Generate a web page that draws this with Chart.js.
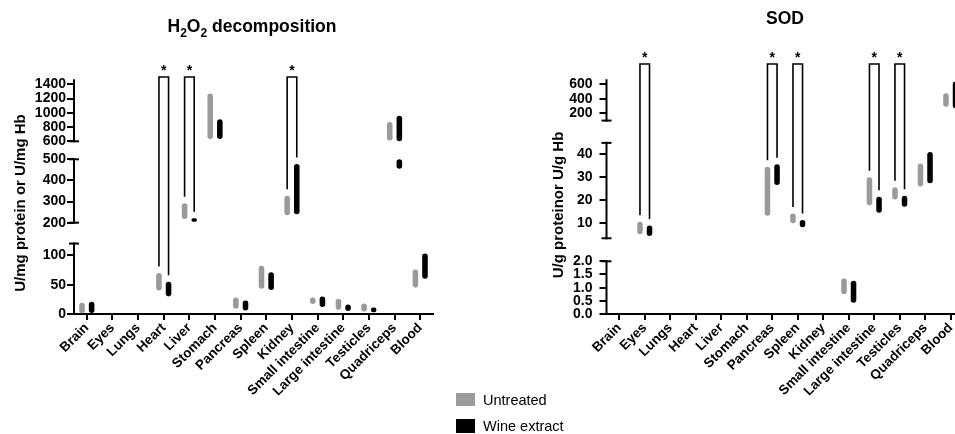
<!DOCTYPE html>
<html><head><meta charset="utf-8">
<script src="https://cdn.jsdelivr.net/npm/chart.js@4"></script>
<style>
html,body{margin:0;padding:0;background:#fff;overflow:hidden;width:955px;height:434px;position:relative;}
#c1{position:absolute;left:0;top:0;}
#c2{position:absolute;left:480px;top:0;}
.lg{position:absolute;left:456px;width:19px;height:13px;}
.lt{position:absolute;left:483px;font:14.5px "Liberation Sans",Arial,sans-serif;color:#000;line-height:16px;white-space:nowrap;}
</style></head><body>
<canvas id="c1" width="470" height="434"></canvas>
<canvas id="c2" width="520" height="434"></canvas>
<div class="lg" style="top:393px;background:#9a9a9a"></div><div class="lt" style="top:392px">Untreated</div>
<div class="lg" style="top:419px;background:#000;height:14px"></div><div class="lt" style="top:418px">Wine extract</div>
<script>
// ---------- data ----------
const categories = ['Brain','Eyes','Lungs','Heart','Liver','Stomach','Pancreas','Spleen','Kidney','Small intestine','Large intestine','Testicles','Quadriceps','Blood'];

// H2O2 decomposition (min, max)
const h2o2Untreated = [[1,19], null, null, [40,70], [217,292], [630,1270], [9,28], [43,82], [235,328], [17,28], [7,26], [4,18], [610,870], [45,76]];
const h2o2Wine      = [[0,21], null, null, [30,55], [205,221], [632,910], [6,23], [41,71], [240,478], [12,30], [5,16], [3,11], [455,960], [60,103]];
const h2o2Significant = ['Heart','Liver','Kidney'];
const h2o2AxisSegments = [[0,120],[200,500],[600,1470]];
const h2o2Ticks = [[0,50,100],[200,300,400,500],[600,800,1000,1200,1400]];

// SOD (min, max)
const sodUntreated = [null, [5.2,10.7], null, null, null, null, [13.3,34.6], [10,14.3], null, [0.75,1.35], [17.8,30], [20.4,25.7], [26,36], [290,475]];
const sodWine      = [null, [4.5,9], null, null, null, null, [26.7,35.7], [8.3,11.4], null, [0.43,1.26], [14.6,21.6], [17.2,22], [27.4,41], [270,640]];
const sodSignificant = ['Eyes','Pancreas','Spleen','Large intestine','Testicles'];
const sodAxisSegments = [[0,2],[3.5,45],[100,670]];
const sodTicks = [[0,0.5,1,1.5,2],[10,20,30,40],[200,400,600]];

// ---------- styling ----------
const FONT = '"Liberation Sans", Arial, Helvetica, sans-serif';
const GRAY = '#9a9a9a', BLACK = '#000000';

function clip(r, s) {
  if (!r) return null;
  const a = Math.max(r[0], s[0]), b = Math.min(r[1], s[1]);
  return a < b ? [a, b] : null;
}

function panelChart(canvasId, p) {
  const segs = p.segments;
  const datasets = [];
  [['Untreated', p.untreated, GRAY, 'U'], ['Wine extract', p.wine, BLACK, 'W']].forEach(([label, ser, col, st]) => {
    segs.forEach((s, k) => datasets.push({
      label, stack: st, yAxisID: 'y' + k,
      data: ser.map(r => clip(r, s)),
      backgroundColor: col, borderRadius: 3, borderSkipped: false,
      categoryPercentage: 0.75, barPercentage: 0.58
    }));
  });
  const scales = {
    x: {
      type: 'category', offset: true,
      grid: {display: true, drawOnChartArea: false, drawTicks: true, tickLength: 6, offset: false, color: '#000', lineWidth: 2},
      border: {display: true, color: '#000', width: 2},
      ticks: {autoSkip: false, maxRotation: 45, minRotation: 45, padding: 0, color: '#000', font: {family: FONT, size: 13.5, weight: 'bold'}},
      afterFit: sc => { sc.height = 120; }
    }
  };
  segs.forEach((s, k) => {
    scales['y' + k] = {
      type: 'linear', position: 'left', stack: 'ybreak', stackWeight: p.weights[k], weight: k + 1,
      min: p.ranges[k][0], max: p.ranges[k][1], stacked: false,
      grid: {display: true, drawOnChartArea: false, drawTicks: true, tickLength: 7, color: '#000', lineWidth: 2},
      border: {display: false},
      ticks: {autoSkip: false, color: '#000', padding: p.tickPad, font: {family: FONT, size: 14, weight: 'bold'}, callback: v => p.fmt[k](v)},
      afterBuildTicks: sc => { sc.ticks = p.ticks[k].map(v => ({value: v})); },
      afterFit: sc => { sc.width = p.yWidth; }
    };
  });
  const deco = {
    id: 'deco',
    afterDraw(chart) {
      const ctx = chart.ctx, ca = chart.chartArea, left = ca.left, last = segs.length - 1;
      ctx.save();
      ctx.strokeStyle = '#000'; ctx.lineWidth = 2;
      segs.forEach((s, k) => {
        const sc = chart.scales['y' + k];
        const p0 = k === 0 ? ca.bottom + 1 : sc.getPixelForValue(s[0]);
        const p1 = sc.getPixelForValue(s[1]);
        ctx.beginPath(); ctx.moveTo(left, p0 + (k === 0 ? 0 : 1)); ctx.lineTo(left, p1 - (k === last ? 0 : 1)); ctx.stroke();
        const cap = y => { ctx.beginPath(); ctx.moveTo(left - 5, y); ctx.lineTo(left + 5, y); ctx.stroke(); };
        if (k > 0) cap(sc.getPixelForValue(s[0]));
        if (k < last) cap(p1);
      });
      // significance brackets
      const topSc = chart.scales['y' + last];
      const yTop = topSc.getPixelForValue(p.sigLevel);
      const barTop = (series, stackIdx, i) => {
        const r = series[i];
        let k = segs.findIndex(s => r[1] >= s[0] && r[1] <= s[1]);
        if (k < 0) k = segs.reduce((acc, s, j) => (r[1] > s[1] ? j : acc), 0);
        const v = Math.min(r[1], segs[k][1]);
        const meta = chart.getDatasetMeta(stackIdx * segs.length + k);
        const el = meta.data[i];
        return {x: el.x, y: chart.scales['y' + k].getPixelForValue(v)};
      };
      ctx.lineWidth = 1.6;
      p.sig.forEach(name => {
        const i = categories.indexOf(name);
        const u = barTop(p.untreated, 0, i), w = barTop(p.wine, 1, i);
        ctx.beginPath();
        ctx.moveTo(u.x, u.y - 6.5); ctx.lineTo(u.x, yTop); ctx.lineTo(w.x, yTop); ctx.lineTo(w.x, w.y - 6.5);
        ctx.stroke();
        ctx.fillStyle = '#000'; ctx.textAlign = 'center'; ctx.textBaseline = 'alphabetic';
        ctx.font = 'bold 14px ' + FONT;
        ctx.fillText('*', (u.x + w.x) / 2, yTop - 2.3);
      });
      // y-axis title
      ctx.save();
      ctx.translate(p.yTitleX, p.yTitleY); ctx.rotate(-Math.PI / 2);
      ctx.font = 'bold 15px ' + FONT; ctx.fillStyle = '#000'; ctx.textAlign = 'center'; ctx.textBaseline = 'middle';
      ctx.fillText(p.yTitle, 0, 0);
      ctx.restore();
      // title
      p.drawTitle(ctx);
      ctx.restore();
    }
  };
  return new Chart(document.getElementById(canvasId), {
    type: 'bar',
    data: {labels: categories, datasets},
    options: {
      responsive: false, animation: false, devicePixelRatio: 1,
      layout: {padding: p.padding},
      plugins: {legend: {display: false}, tooltip: {enabled: false}, title: {display: false}},
      scales
    },
    plugins: [deco]
  });
}

panelChart('c1', {
  untreated: h2o2Untreated, wine: h2o2Wine, sig: h2o2Significant,
  segments: h2o2AxisSegments, ticks: h2o2Ticks,
  ranges: [[0,138],[151.3,542.6],[473.7,1741]], weights: [81,82.7,90.3],
  fmt: [v => String(v), v => String(v), v => String(v)],
  tickPad: 1, yWidth: 74, padding: {top: 60, left: 0, right: 37, bottom: 0},
  sigLevel: 1502,
  yTitle: 'U/mg protein or U/mg Hb', yTitleX: 21, yTitleY: 203,
  drawTitle(ctx) {
    const big = 'bold 17.5px ' + FONT, small = 'bold 12px ' + FONT;
    const parts = [['H', big, 0], ['2', small, 4.5], ['O', big, 0], ['2', small, 4.5], [' decomposition', big, 0]];
    let w = 0; parts.forEach(([t, f]) => { ctx.font = f; w += ctx.measureText(t).width; });
    let x = 252 - w / 2;
    ctx.fillStyle = '#000'; ctx.textAlign = 'left'; ctx.textBaseline = 'alphabetic';
    parts.forEach(([t, f, dy]) => { ctx.font = f; ctx.fillText(t, x, 32 + dy); x += ctx.measureText(t).width; });
  }
});

panelChart('c2', {
  untreated: sodUntreated, wine: sodWine, sig: sodSignificant,
  segments: sodAxisSegments, ticks: sodTicks,
  ranges: [[0,2.436],[-1.52,49.9],[-52,1073]], weights: [64.2,118.2,81.6],
  fmt: [v => v.toFixed(1), v => String(v), v => String(v)],
  tickPad: 7, yWidth: 126.5, padding: {top: 50, left: 0, right: 36.5, bottom: 0},
  sigLevel: 880,
  yTitle: 'U/g proteinor U/g Hb', yTitleX: 79, yTitleY: 205,
  drawTitle(ctx) {
    ctx.font = 'bold 17.5px ' + FONT; ctx.fillStyle = '#000'; ctx.textAlign = 'center'; ctx.textBaseline = 'alphabetic';
    ctx.fillText('SOD', 305, 24);
  }
});
</script>
</body></html>
